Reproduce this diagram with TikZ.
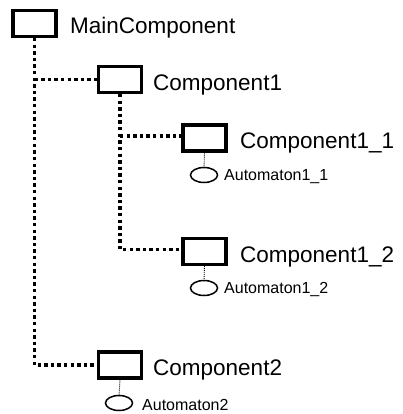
\documentclass[tikz,border=0pt]{standalone}
\usepackage{fontspec}
\setmainfont{Liberation Sans}
\begin{document}
\begin{tikzpicture}[x=1pt,y=-1pt,
  compbox/.style={draw,line width=3.2pt,minimum width=43pt,minimum height=26pt,inner sep=0pt,fill=white},
  complabel/.style={anchor=base west,inner sep=0pt,font=\fontsize{22.5}{24}\selectfont},
  autoshape/.style={line width=1.5pt,x radius=13.5pt,y radius=7.5pt},
  autolabel/.style={anchor=base west,inner sep=0pt,font=\fontsize{16}{18}\selectfont},
  treelink/.style={line width=3.6pt,dash pattern=on 3.4pt off 3.2pt},
  autolink/.style={line width=0.9pt,dash pattern=on 1pt off 1pt}]
\useasboundingbox (0,0) rectangle (403,414);

% component boxes
\node[compbox] (main) at (34.5,23.5) {};
\node[compbox] (c1)   at (120,79.5) {};
\node[compbox] (c11)  at (204.5,138) {};
\node[compbox] (c12)  at (204.5,251.5) {};
\node[compbox] (c2)   at (120,365) {};

% component names
\node[complabel] (mainl) at (70,34)  {MainComponent};
\node[complabel] (c1l)   at (153,91)  {Component1};
\node[complabel] (c11l)  at (240,149) {Component1\_1};
\node[complabel] (c12l)  at (240,262) {Component1\_2};
\node[complabel] (c2l)   at (153,375) {Component2};

% automata: centre points and top points of the ellipses
\coordinate (a11) at (204,175);
\coordinate (a12) at (204,288);
\coordinate (a2)  at (119,403);
\coordinate (a11top) at (204,167.5);
\coordinate (a12top) at (204,280.5);
\coordinate (a2top)  at (119,395.5);
\draw[autoshape] (a11) ellipse [];
\draw[autoshape] (a12) ellipse [];
\draw[autoshape] (a2)  ellipse [];
\node[autolabel] (a11l) at (224,180.5) {Automaton1\_1};
\node[autolabel] (a12l) at (224,293.5) {Automaton1\_2};
\node[autolabel] (a2l)  at (142,410) {Automaton2};

% hierarchy links
\draw[treelink] (main.south) |- (c2.west);
\draw[treelink] (main.south |- c1.west) -- (c1.west);
\draw[treelink] (c1.south) |- ([yshift=2pt]c12.west);
\draw[treelink] (c1.south |- c11.west) ++(0,2pt) -- ([yshift=2pt]c11.west);

% automaton links
\draw[autolink] (c11.south) -- (a11top);
\draw[autolink] (c12.south) -- (a12top);
\draw[autolink] (c2.south) -- (a2top);
\end{tikzpicture}
\end{document}
